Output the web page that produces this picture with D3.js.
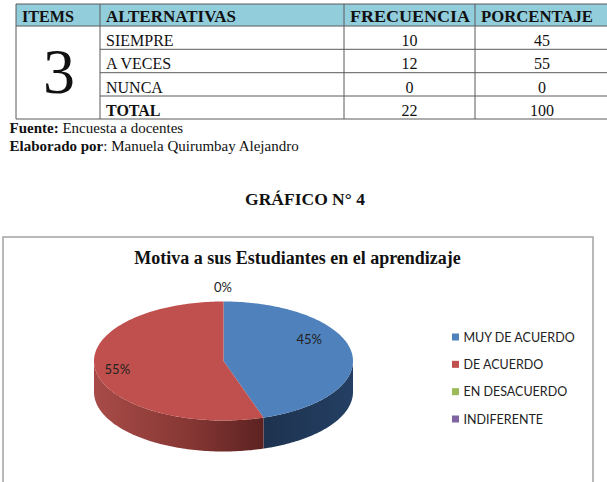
<!DOCTYPE html>
<html>
<head>
<meta charset="utf-8">
<script src="https://cdn.jsdelivr.net/npm/d3@7"></script>
<style>
  html, body { margin: 0; padding: 0; background: #fff; }
  svg { display: block; }
</style>
</head>
<body>
<svg id="chart" width="607" height="482"></svg>
<script>
// ---------- DATA ----------
const tableHeaders = ["ITEMS", "ALTERNATIVAS", "FRECUENCIA", "PORCENTAJE"];
const itemNumber = "3";
const alternativas = ["SIEMPRE", "A VECES", "NUNCA", "TOTAL"];
const frecuencia = [10, 12, 0, 22];
const porcentaje = [45, 55, 0, 100];
const fuenteLabel = "Fuente:";
const fuenteText = " Encuesta a docentes";
const elaboradoLabel = "Elaborado por";
const elaboradoText = ": Manuela Quirumbay Alejandro";
const figureTitle = "GRÁFICO N° 4";
const chartTitle = "Motiva a sus Estudiantes en el aprendizaje";
const pieCategories = ["MUY DE ACUERDO", "DE ACUERDO", "EN DESACUERDO", "INDIFERENTE"];
const pieValues = [45, 55, 0, 0];
const pieColors = ["#4F81BD", "#C0504D", "#9BBB59", "#8064A2"];

// ---------- LAYOUT ----------
const svg = d3.select("#chart");
const serif = "'Liberation Serif', 'Times New Roman', serif";
const sans = "Lato, 'Open Sans', sans-serif";

// Table
const colEdges = [16, 100, 344, 475, 609];
const rowEdges = [4, 26, 49.3, 72.7, 96, 119];
const tbl = svg.append("g");

tbl.append("rect")
  .attr("x", colEdges[0]).attr("y", rowEdges[0])
  .attr("width", colEdges[4] - colEdges[0]).attr("height", rowEdges[1] - rowEdges[0])
  .attr("fill", "#92CDDC");

const hdrWidths = [52, 130, 120, 112];
tbl.selectAll("text.hdr").data(tableHeaders).join("text")
  .attr("class", "hdr")
  .attr("x", (d, i) => colEdges[i] + 6)
  .attr("y", rowEdges[1] - 4)
  .attr("font-family", serif).attr("font-weight", "bold").attr("font-size", 16.5)
  .attr("textLength", (d, i) => hdrWidths[i]).attr("lengthAdjust", "spacingAndGlyphs")
  .attr("fill", "#111")
  .text(d => d);

const lineColor = "#5a5a5a";
rowEdges.forEach((y, i) => {
  const x0 = (i === 0 || i === 1 || i === rowEdges.length - 1) ? colEdges[0] : colEdges[1];
  tbl.append("line").attr("x1", x0).attr("x2", colEdges[4])
    .attr("y1", y).attr("y2", y).attr("stroke", lineColor).attr("stroke-width", 1);
});
colEdges.forEach(x => {
  tbl.append("line").attr("x1", x).attr("x2", x)
    .attr("y1", rowEdges[0]).attr("y2", rowEdges[rowEdges.length - 1])
    .attr("stroke", lineColor).attr("stroke-width", 1);
});

tbl.append("text")
  .attr("x", (colEdges[0] + colEdges[1]) / 2 + 1)
  .attr("y", 93)
  .attr("text-anchor", "middle")
  .attr("font-family", serif).attr("font-size", 64).attr("fill", "#111")
  .text(itemNumber);

alternativas.forEach((alt, i) => {
  const yb = rowEdges[i + 2] - 3.5;
  const bold = alt === "TOTAL";
  tbl.append("text").attr("x", colEdges[1] + 6).attr("y", yb)
    .attr("font-family", serif).attr("font-size", 16)
    .attr("font-weight", bold ? "bold" : "normal").attr("fill", "#111").text(alt);
  tbl.append("text").attr("x", (colEdges[2] + colEdges[3]) / 2).attr("y", yb)
    .attr("text-anchor", "middle")
    .attr("font-family", serif).attr("font-size", 16).attr("fill", "#111").text(frecuencia[i]);
  tbl.append("text").attr("x", (colEdges[3] + colEdges[4]) / 2).attr("y", yb)
    .attr("text-anchor", "middle")
    .attr("font-family", serif).attr("font-size", 16).attr("fill", "#111").text(porcentaje[i]);
});

const src1 = svg.append("text").attr("x", 9.5).attr("y", 133)
  .attr("font-family", serif).attr("font-size", 15).attr("fill", "#111");
src1.append("tspan").attr("font-weight", "bold").text(fuenteLabel);
src1.append("tspan").attr("xml:space", "preserve").text(fuenteText);
const src2 = svg.append("text").attr("x", 9.5).attr("y", 151)
  .attr("font-family", serif).attr("font-size", 15).attr("fill", "#111");
src2.append("tspan").attr("font-weight", "bold").text(elaboradoLabel);
src2.append("tspan").text(elaboradoText);

svg.append("text").attr("x", 305).attr("y", 205).attr("text-anchor", "middle")
  .attr("font-family", serif).attr("font-weight", "bold").attr("font-size", 17.5)
  .attr("fill", "#111").text(figureTitle);

svg.append("rect").attr("x", 3).attr("y", 237).attr("width", 590).attr("height", 270)
  .attr("fill", "#fff").attr("stroke", "#a3a3a3").attr("stroke-width", 1.5);

svg.append("text").attr("x", 297.5).attr("y", 263.5).attr("text-anchor", "middle")
  .attr("font-family", serif).attr("font-weight", "bold").attr("font-size", 18)
  .attr("fill", "#111").text(chartTitle);

// ---------- 3D PIE ----------
const cx = 223.5, cy = 361, rx = 129.5, ry = 59.5, depth = 31;
const pie = d3.pie().sort(null).startAngle(0).endAngle(2 * Math.PI);
const arcs = pie(pieValues);
const pt = (a, dy = 0) => [cx + rx * Math.sin(a), cy - ry * Math.cos(a) + dy];
const samples = (a0, a1) => {
  const n = Math.max(2, Math.ceil((a1 - a0) / 0.02));
  return d3.range(n + 1).map(k => a0 + (a1 - a0) * k / n);
};

const defs = svg.append("defs");
const redGrad = defs.append("linearGradient").attr("id", "sideRed")
  .attr("gradientUnits", "userSpaceOnUse")
  .attr("x1", cx - rx).attr("x2", 267).attr("y1", 0).attr("y2", 0);
redGrad.append("stop").attr("offset", "0%").attr("stop-color", "#A84B48");
redGrad.append("stop").attr("offset", "55%").attr("stop-color", "#863734");
redGrad.append("stop").attr("offset", "100%").attr("stop-color", "#5A2120");
const blueGrad = defs.append("linearGradient").attr("id", "sideBlue")
  .attr("gradientUnits", "userSpaceOnUse")
  .attr("x1", 267).attr("x2", cx + rx).attr("y1", 0).attr("y2", 0);
blueGrad.append("stop").attr("offset", "0%").attr("stop-color", "#1E3350");
blueGrad.append("stop").attr("offset", "100%").attr("stop-color", "#243F63");
const sideFill = ["url(#sideBlue)", "url(#sideRed)", "#76923C", "#5F497A"];

const pieG = svg.append("g");
arcs.forEach((d, i) => {
  const t0 = Math.max(d.startAngle, Math.PI / 2);
  const t1 = Math.min(d.endAngle, 3 * Math.PI / 2);
  if (t1 <= t0 || d.value === 0) return;
  const top = samples(t0, t1).map(a => pt(a));
  const bot = samples(t0, t1).reverse().map(a => pt(a, depth));
  const p = d3.path();
  top.concat(bot).forEach((q, k) => k === 0 ? p.moveTo(q[0], q[1]) : p.lineTo(q[0], q[1]));
  p.closePath();
  pieG.append("path").attr("d", p.toString()).attr("fill", sideFill[i]);
});
arcs.forEach((d, i) => {
  if (d.value === 0) return;
  const p = d3.path();
  p.moveTo(cx, cy);
  samples(d.startAngle, d.endAngle).forEach(a => { const q = pt(a); p.lineTo(q[0], q[1]); });
  p.closePath();
  pieG.append("path").attr("d", p.toString()).attr("fill", pieColors[i]);
});

const total = d3.sum(pieValues);
const labelRadius = [0.67, 0.83];
const labelDy = [-16, 0];
const shownZero = new Set();
arcs.forEach((d, i) => {
  const pct = Math.round(d.value / total * 100) + "%";
  let x, y;
  if (d.value === 0) {
    if (shownZero.has(d.startAngle)) return;
    shownZero.add(d.startAngle);
    const q = pt(d.startAngle);
    x = q[0] - 0.5; y = q[1] - 15;
  } else {
    const m = (d.startAngle + d.endAngle) / 2;
    const f = labelRadius[i];
    x = cx + rx * f * Math.sin(m);
    y = cy - ry * f * Math.cos(m) + labelDy[i];
  }
  svg.append("text").attr("x", x).attr("y", y).attr("text-anchor", "middle")
    .attr("dominant-baseline", "central")
    .attr("font-family", sans).attr("font-size", 13).attr("fill", "#222").text(pct);
});

const legendY = d3.scalePoint().domain(pieCategories).range([337, 419]);
const lg = svg.append("g");
pieCategories.forEach((c, i) => {
  lg.append("rect").attr("x", 452).attr("y", legendY(c) - 3.5).attr("width", 7).attr("height", 7)
    .attr("fill", pieColors[i]);
  lg.append("text").attr("x", 463.5).attr("y", legendY(c)).attr("dominant-baseline", "central")
    .attr("font-family", sans).attr("font-size", 12.5).attr("fill", "#222").text(c);
});
</script>
</body>
</html>
